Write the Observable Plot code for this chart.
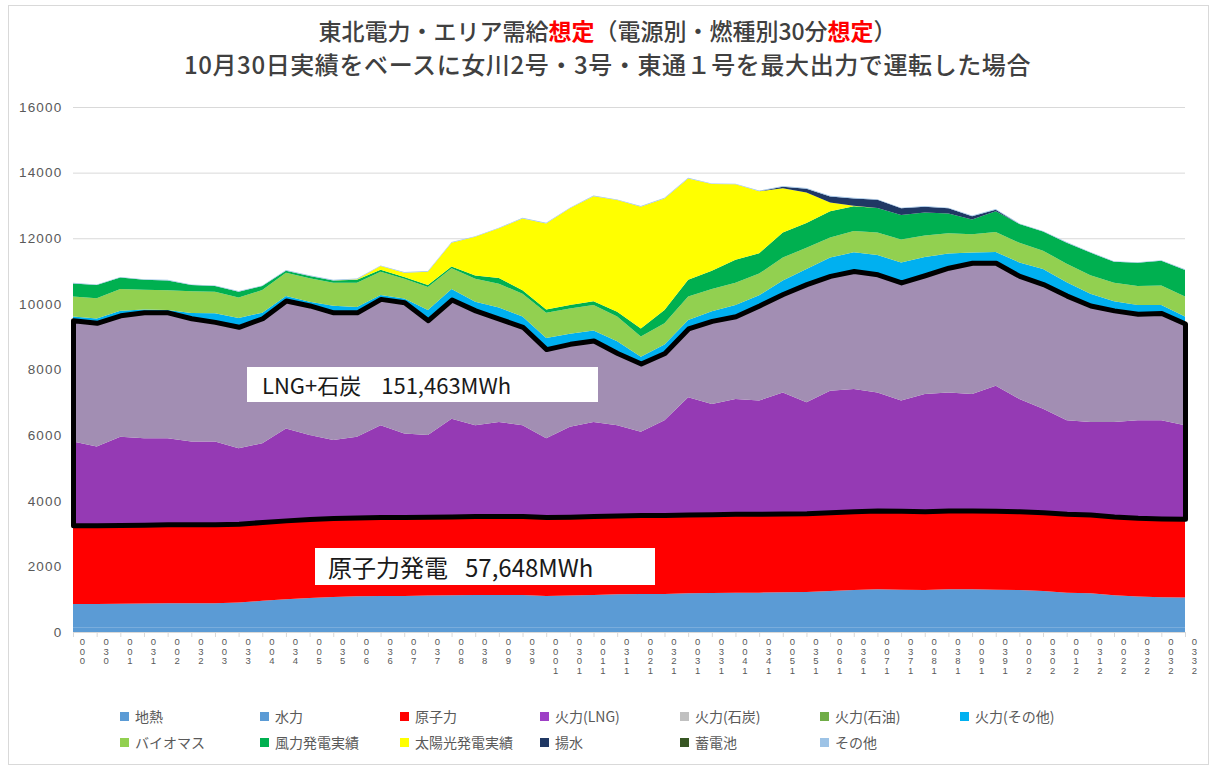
<!DOCTYPE html>
<html><head><meta charset="utf-8">
<script src="https://cdn.jsdelivr.net/npm/d3@7"></script>
<script src="https://cdn.jsdelivr.net/npm/@observablehq/plot@0.6"></script>
<style>
html,body{margin:0;padding:0;background:#fff;}
body{width:1215px;height:769px;position:relative;overflow:hidden;font-family:"Noto Sans CJK JP","Noto Sans",sans-serif;}
#frame{position:absolute;left:8px;top:5px;width:1201px;height:760px;border:1px solid #d9d9d9;box-sizing:border-box;}
#title{position:absolute;left:0;top:14px;width:1215px;text-align:center;color:#404040;font-size:23px;line-height:33px;font-weight:500;}
#title .l2{font-size:24px;letter-spacing:0.6px;}
.red{color:#ff0000;font-weight:700}
#chart{position:absolute;left:0;top:90px;}
.note{position:absolute;background:#fff;color:#1a1a1a;white-space:pre;box-sizing:border-box;}
.li{position:absolute;font-size:14px;color:#595959;display:flex;align-items:center;white-space:nowrap;height:20px;}
.sw{width:9px;height:9px;margin-right:6px;flex:none}
</style></head><body>
<div id="frame"></div>
<div id="title"><div>東北電力・エリア需給<span class="red">想定</span>（電源別・燃種別30分<span class="red">想定</span>）</div><div class="l2">10月30日実績をベースに女川2号・3号・東通１号を最大出力で運転した場合</div></div>
<div id="chart"></div>
<div id="notes"></div>
<div id="legend"></div>
<script>
// ---- data (MW, 30-minute steps) ----
const times = ["0:00","0:30","1:00","1:30","2:00","2:30","3:00","3:30","4:00","4:30","5:00","5:30","6:00","6:30","7:00","7:30","8:00","8:30","9:00","9:30","10:00","10:30","11:00","11:30","12:00","12:30","13:00","13:30","14:00","14:30","15:00","15:30","16:00","16:30","17:00","17:30","18:00","18:30","19:00","19:30","20:00","20:30","21:00","21:30","22:00","22:30","23:00","23:30"];
const seriesNames = ["地熱","水力","原子力","火力(LNG)","火力(石炭)","火力(石油)","火力(その他)","バイオマス","風力発電実績","太陽光発電実績","揚水","蓄電池","その他"];
const geothermal = [130,130,130,130,130,130,130,130,130,130,130,130,130,130,130,130,130,130,130,130,130,130,130,130,130,130,130,130,130,130,130,130,130,130,130,130,130,130,130,130,130,130,130,130,130,130,130,130];
const hydro = [720,720,730,740,750,750,750,770,820,870,910,940,960,970,970,980,990,1000,1000,1000,970,980,1000,1020,1030,1030,1050,1060,1070,1070,1080,1090,1120,1150,1170,1160,1150,1170,1170,1160,1150,1120,1070,1050,990,950,930,920];
const nuclear = [2402,2402,2402,2402,2402,2402,2402,2402,2402,2402,2402,2402,2402,2402,2402,2402,2402,2402,2402,2402,2402,2402,2402,2402,2402,2402,2402,2402,2402,2402,2402,2402,2402,2402,2402,2402,2402,2402,2402,2402,2402,2402,2402,2402,2402,2402,2402,2402];
const lng = [2550,2400,2690,2630,2620,2520,2520,2300,2400,2800,2560,2380,2460,2800,2550,2490,2980,2770,2870,2770,2400,2740,2870,2750,2540,2890,3570,3360,3500,3450,3690,3380,3700,3720,3600,3360,3570,3600,3550,3810,3420,3150,2850,2820,2880,2970,2990,2850];
const coal = [3700,3770,3700,3840,3840,3760,3650,3700,3810,3900,3950,3890,3790,3850,4000,3500,3630,3500,3150,3000,2720,2530,2480,2200,2080,2050,2100,2530,2520,2900,3000,3600,3500,3600,3600,3600,3620,3800,4000,3750,3750,3800,3800,3550,3400,3250,3270,3100];
const oil = [10,10,10,10,10,10,10,10,10,10,10,10,10,10,10,10,10,10,10,10,10,10,10,10,10,10,10,10,10,10,10,10,10,10,10,10,10,10,10,10,10,10,10,10,10,10,10,10];
const otherThermal = [100,120,130,80,60,150,250,260,160,130,100,190,150,110,100,300,310,250,330,300,330,300,300,350,200,250,250,280,330,300,400,450,550,560,580,600,550,420,300,320,400,450,400,350,270,250,230,200];
const biomass = [610,620,660,600,600,660,660,620,690,710,720,700,740,710,600,700,630,700,720,700,770,770,770,750,610,650,710,680,680,660,700,650,610,650,680,700,650,620,560,610,600,560,560,560,560,580,600,610];
const wind = [400,400,350,300,300,190,170,180,120,60,70,70,90,60,60,60,60,100,180,100,100,100,120,150,250,400,510,560,700,620,760,750,800,750,750,750,700,600,450,630,570,580,640,690,640,710,750,810];
const solar = [0,0,0,0,0,0,0,0,0,0,0,0,20,110,130,410,720,1180,1510,2190,2620,2950,3200,3400,3710,3400,3090,2640,2300,1890,1350,930,270,20,0,0,0,0,0,0,0,0,0,0,0,0,0,0];
const pumped = [0,0,0,0,0,0,0,0,0,0,0,0,0,0,0,0,0,0,0,0,0,0,0,0,0,0,0,0,0,0,50,120,180,220,250,200,180,160,100,50,0,0,0,0,0,0,0,0];
const battery = [0,0,0,0,0,0,0,0,0,0,0,0,0,0,0,0,0,0,0,0,0,0,0,0,0,0,0,0,0,0,0,0,0,0,0,0,0,0,0,0,0,0,0,0,0,0,0,0];
const others = [20,20,20,20,20,20,20,20,20,20,20,20,20,20,20,20,20,20,20,20,20,20,20,20,20,20,20,20,20,20,20,20,20,20,20,20,20,20,20,20,20,20,20,20,20,20,20,20];
const yTicks = [0,2000,4000,6000,8000,10000,12000,14000,16000];
const annotations = ["LNG+石炭", "151,463MWh", "原子力発電", "57,648MWh"];

// colours
const areaColors = ["#5b9bd5","#5b9bd5","#ff0000","#953ab4","#a28eb3","#70ad47","#00b0f0","#92d050","#00b050","#ffff00","#203864","#375623","#9dc3e6"];
const legendColors = ["#5b9bd5","#5b9bd5","#ff0000","#9e40c6","#c0c0c0","#70ad47","#00b0f0","#92d050","#00b050","#ffff00","#203864","#375623","#9dc3e6"];

const seriesValues = [geothermal,hydro,nuclear,lng,coal,oil,otherThermal,biomass,wind,solar,pumped,battery,others];
const rows = [];
seriesNames.forEach((s, k) => seriesValues[k].forEach((v, i) => rows.push({s, i, v})));

// outline around LNG + coal (from stacked tops)
const nucTop = times.map((_, i) => geothermal[i] + hydro[i] + nuclear[i]);
const coalTop = times.map((_, i) => nucTop[i] + lng[i] + coal[i]);
const outline = [];
times.forEach((_, i) => outline.push({i, y: coalTop[i]}));
for (let i = times.length - 1; i >= 0; i--) outline.push({i, y: nucTop[i]});
outline.push({i: 0, y: coalTop[0]});

const lab = t => t.replace(":", "").split("").reverse().join("\n");

const chart = Plot.plot({
  width: 1215,
  height: 610,
  marginLeft: 73,
  marginRight: 30,
  marginTop: 17,
  marginBottom: 68,
  style: {fontFamily: "'Liberation Sans', Arial, sans-serif", background: "transparent"},
  x: {type: "linear", domain: [0, times.length - 1], axis: null},
  y: {domain: [0, 16000], axis: null},
  color: {type: "ordinal", domain: seriesNames, range: areaColors},
  marks: [
    Plot.gridY(yTicks, {stroke: "#d9d9d9", strokeOpacity: 1, strokeWidth: 1}),
    Plot.axisY(yTicks, {label: null, tickSize: 0, tickPadding: 11, fontSize: 13.5, fill: "#595959", tickFormat: d3.format("d")}),
    Plot.axisX(d3.range(times.length), {label: null, tickSize: 5, stroke: "#d9d9d9", tickFormat: () => ""}),
    Plot.axisX(d3.range(times.length), {label: null, tickSize: 0, tickPadding: 6, dx: 9, fontSize: 9.5, lineHeight: 1.0, fill: "#595959", tickFormat: i => lab(times[i])}),
    Plot.areaY(rows, {x: "i", y: "v", z: "s", fill: "s", order: seriesNames, curve: "linear"}),
    Plot.line(outline, {x: "i", y: "y", stroke: "#000", strokeWidth: 5, strokeLinejoin: "round", curve: "linear"})
  ]
});
document.getElementById("chart").appendChild(chart);
d3.select(chart).selectAll('g[aria-label="y-axis tick label"] text').attr("letter-spacing", "1.2px");

// annotation boxes
const notes = document.getElementById("notes");
notes.innerHTML =
  `<div class="note" style="left:247px;top:367px;width:351px;height:35px;font-size:22px;line-height:35px;padding-left:15px">${annotations[0]}<span style="margin-left:20px">${annotations[1]}</span></div>` +
  `<div class="note" style="left:315px;top:548px;width:340px;height:37px;font-size:24px;line-height:37px;padding-left:13px">${annotations[2]}<span style="margin-left:17px">${annotations[3]}</span></div>`;

// legend
const legend = document.getElementById("legend");
seriesNames.forEach((s, k) => {
  const row = k < 7 ? 0 : 1, col = k < 7 ? k : k - 7;
  const d = document.createElement("div");
  d.className = "li";
  d.style.left = (120 + 140 * col) + "px";
  d.style.top = (706 + 26 * row) + "px";
  d.innerHTML = `<span class="sw" style="background:${legendColors[k]}"></span>${s}`;
  legend.appendChild(d);
});
</script>
</body></html>
